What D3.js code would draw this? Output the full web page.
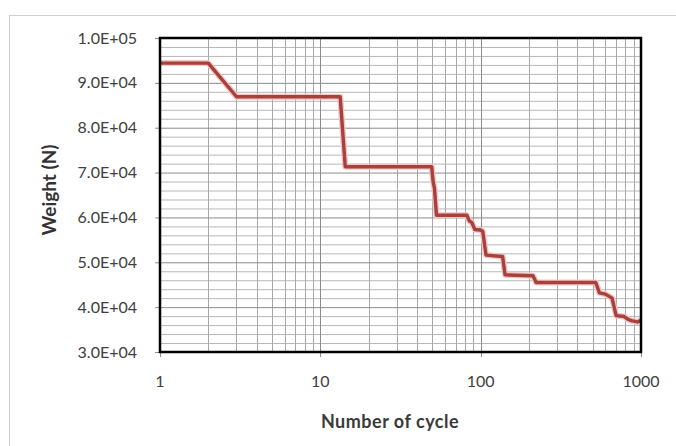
<!DOCTYPE html>
<html>
<head>
<meta charset="utf-8">
<script src="https://cdn.jsdelivr.net/npm/d3@7"></script>
<style>
  body { margin: 0; background: #fff; }
  svg { display: block; }
</style>
</head>
<body>
<svg id="chart" width="676" height="446"></svg>
<script>
/*global d3*/
// cycle number vs weight (N)
var cycles = [1, 2, 3, 13.3, 14.3, 49.5, 50.5, 51.5, 53, 82, 85, 88, 92, 100, 103, 108, 137, 142,
              212, 222, 522, 550, 600, 660, 700, 785, 830, 870, 950, 1000];
var weights = [94400, 94400, 86900, 86900, 71300, 71300, 68000, 66500, 60500, 60500, 59200, 58900,
               57300, 57200, 56900, 51600, 51300, 47200, 47000, 45500, 45500, 43200, 42900, 42000,
               38100, 37900, 37300, 37000, 36700, 37100];
var xTicks = [1, 10, 100, 1000];
var yTicks = [30000, 40000, 50000, 60000, 70000, 80000, 90000, 100000];
var yMinorStep = 2000;

(function () {
   "use strict";

   var svg = d3.select("#chart"),
      left = 160, right = 641, top = 38, bottom = 352,
      x = d3.scaleLog().domain([1, 1000]).range([left, right]),
      y = d3.scaleLinear().domain([30000, 100000]).range([bottom, top]),
      font = "Lato, 'Open Sans', sans-serif",
      minorX = [], minorY = [], d, v;

   // excel style 1.0E+05
   function sci(n) {
      var e = Math.floor(Math.log10(n)),
         m = n / Math.pow(10, e);
      return m.toFixed(1) + "E+" + (e < 10 ? "0" : "") + e;
   }

   for (d = 1; d < 1000; d *= 10) {
      for (v = 2; v < 10; v++) { minorX.push(d * v); }
   }
   for (v = 30000; v < 100000; v += yMinorStep) {
      if (v % 10000 !== 0) { minorY.push(v); }
   }

   // outer chart frame
   svg.append("rect")
      .attr("x", 9.5).attr("y", 15.5)
      .attr("width", 720).attr("height", 500)
      .attr("fill", "#fff").attr("stroke", "#cfcfcf");

   var grid = svg.append("g");
   grid.selectAll(".hmin").data(minorY).enter().append("line")
      .attr("x1", left).attr("x2", right)
      .attr("y1", function (t) { return y(t) + 0.5; })
      .attr("y2", function (t) { return y(t) + 0.5; })
      .attr("stroke", "#b8b8b8").attr("stroke-width", 1);
   grid.selectAll(".vmin").data(minorX).enter().append("line")
      .attr("y1", top).attr("y2", bottom)
      .attr("x1", function (t) { return Math.round(x(t)) + 0.5; })
      .attr("x2", function (t) { return Math.round(x(t)) + 0.5; })
      .attr("stroke", "#a8a8a8").attr("stroke-width", 1);
   grid.selectAll(".hmaj").data(yTicks).enter().append("line")
      .attr("x1", left - 5).attr("x2", right)
      .attr("y1", function (t) { return y(t) + 0.5; })
      .attr("y2", function (t) { return y(t) + 0.5; })
      .attr("stroke", "#8c8c8c").attr("stroke-width", 1);
   grid.selectAll(".vmaj").data(xTicks).enter().append("line")
      .attr("y1", top).attr("y2", bottom + 5)
      .attr("x1", function (t) { return Math.round(x(t)) + 0.5; })
      .attr("x2", function (t) { return Math.round(x(t)) + 0.5; })
      .attr("stroke", "#8c8c8c").attr("stroke-width", 1);

   // the weight curve
   var line = d3.line()
      .x(function (c) { return x(c); })
      .y(function (c, i) { return y(weights[i]); });
   svg.append("path")
      .datum(cycles)
      .attr("d", line)
      .attr("fill", "none")
      .attr("stroke", "#f2c4c2")
      .attr("stroke-width", 6)
      .attr("stroke-linejoin", "round");
   svg.append("path")
      .datum(cycles)
      .attr("d", line)
      .attr("fill", "none")
      .attr("stroke", "#a8403d")
      .attr("stroke-width", 3.4)
      .attr("stroke-linejoin", "round");

   // plot border
   svg.append("rect")
      .attr("x", left).attr("y", top)
      .attr("width", right - left).attr("height", bottom - top)
      .attr("fill", "none").attr("stroke", "#000").attr("stroke-width", 2.5);

   svg.append("g").selectAll("text").data(yTicks).enter().append("text")
      .attr("x", 137)
      .attr("y", function (t) { return y(t) + 5.5; })
      .attr("text-anchor", "end")
      .attr("font-family", font).attr("font-size", 16)
      .attr("fill", "#404040")
      .text(sci);

   svg.append("g").selectAll("text").data(xTicks).enter().append("text")
      .attr("x", function (t) { return x(t); })
      .attr("y", 387)
      .attr("text-anchor", "middle")
      .attr("font-family", font).attr("font-size", 16)
      .attr("fill", "#404040")
      .text(function (t) { return t; });

   svg.append("text")
      .attr("x", 390).attr("y", 428)
      .attr("text-anchor", "middle")
      .attr("font-family", font).attr("font-size", 18).attr("font-weight", "bold")
      .attr("letter-spacing", 0.5)
      .attr("fill", "#3a3a3a")
      .text("Number of cycle");

   svg.append("text")
      .attr("transform", "translate(56,190) rotate(-90)")
      .attr("text-anchor", "middle")
      .attr("font-family", font).attr("font-size", 19).attr("font-weight", "bold")
      .attr("fill", "#333")
      .text("Weight (N)");
}());
</script>
</body>
</html>
